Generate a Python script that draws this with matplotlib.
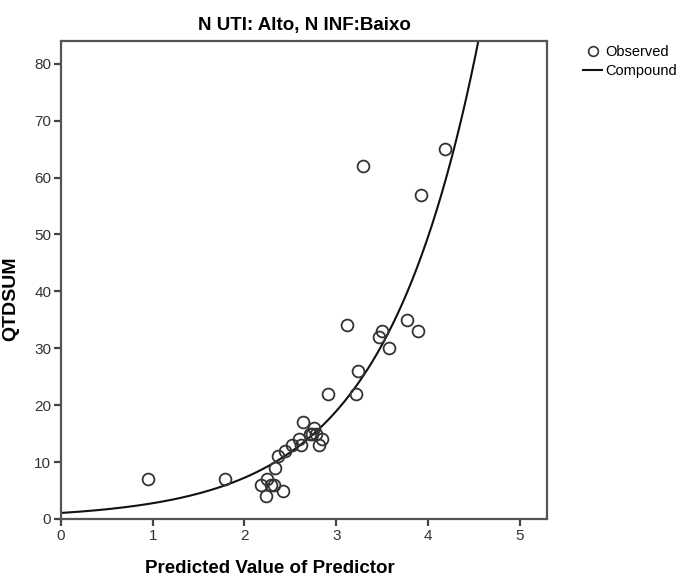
import numpy as np
import matplotlib
matplotlib.use("Agg")
import matplotlib.pyplot as plt
from matplotlib.lines import Line2D

# observed points: predicted value vs QTDSUM
pred = [0.95, 1.79, 2.18, 2.24, 2.23, 2.29, 2.32, 2.42, 2.33, 2.36, 2.44, 2.52,
        2.59, 2.62, 2.64, 2.71, 2.74, 2.76, 2.78, 2.81, 2.84, 2.91, 3.22, 3.24,
        3.12, 3.47, 3.50, 3.57, 3.77, 3.89, 3.29, 3.92, 4.18]
qtdsum = [7, 7, 6, 7, 4, 6, 6, 5, 9, 11, 12, 13,
          14, 13, 17, 15, 15, 16, 15, 13, 14, 22, 22, 26,
          34, 32, 33, 30, 35, 33, 62, 57, 65]

# compound model y = b0 * b1^x
b0 = 1.06
b1 = 2.615

x_ticks = [0, 1, 2, 3, 4, 5]
y_ticks = [0, 10, 20, 30, 40, 50, 60, 70, 80]

fig = plt.figure(figsize=(6.85, 5.83), dpi=100)
ax = fig.add_axes([0.089, 0.1098, 0.71, 0.82])

xs = np.linspace(0, 5.3, 400)
ax.plot(xs, b0 * b1 ** xs, color='#111111', lw=1.5, zorder=2)
ax.plot(pred, qtdsum, 'o', mfc='none', mec='#333333', ms=8.5, mew=1.3, zorder=3)

ax.set_xlim(0, 5.3)
ax.set_ylim(0, 84)
ax.set_xticks(x_ticks)
ax.set_yticks(y_ticks)

for s in ax.spines.values():
    s.set_color('#555555')
    s.set_linewidth(1.6)

ax.tick_params(direction='out', length=5, width=1.6, color='#444444',
               labelsize=11, labelcolor='#333333', pad=2)
for lab in ax.get_xticklabels() + ax.get_yticklabels():
    lab.set_family('Liberation Sans')

ax.set_title('N UTI: Alto, N INF:Baixo', family='Liberation Sans',
             fontweight='bold', fontsize=13.5, pad=8)
ax.set_xlabel('Predicted Value of Predictor', family='Liberation Sans',
              fontweight='bold', fontsize=13.5, labelpad=14)
ax.xaxis.set_label_coords(0.43, -0.085)
ax.set_ylabel('QTDSUM', family='Liberation Sans', fontweight='bold',
              fontsize=14, labelpad=4)
ax.yaxis.set_label_coords(-0.085, 0.46)

handles = [Line2D([], [], ls='none', marker='o', mfc='none', mec='#333333', ms=7, mew=1.2),
           Line2D([], [], color='#111111', lw=1.5)]
fig.legend(handles, ['Observed', 'Compound'], loc='upper left',
           bbox_to_anchor=(0.832, 0.945), frameon=False, handlelength=1.3,
           handletextpad=0.2, labelspacing=0.35,
           prop={'family': 'Liberation Sans', 'size': 10.5})

fig.savefig('out.png', dpi=100)
